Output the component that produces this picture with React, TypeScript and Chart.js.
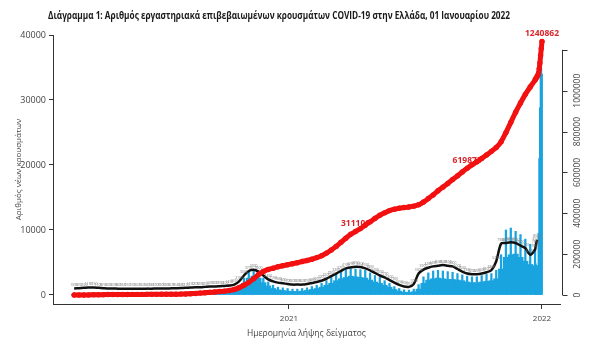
import React, { useEffect, useRef } from 'react';
import { Chart, registerables } from 'chart.js';

Chart.register(...registerables);

// ---- data (x = days relative to 1 Jan 2021) ----
const FIRST_WEEK_DAY = -310; // 26 Feb 2020
const WEEK_STEP = 7;

const TITLE = 'Διάγραμμα 1: Αριθμός εργαστηριακά επιβεβαιωμένων κρουσμάτων COVID-19 στην Ελλάδα, 01 Ιανουαρίου 2022';
const X_TITLE = 'Ημερομηνία λήψης δείγματος';
const Y_TITLE = 'Αριθμός νέων κρουσμάτων';

const xTickDays = [0, 365];
const xTickLabels = ['2021', '2022'];
const leftTicks = [0, 10000, 20000, 30000, 40000];
const rightTicks = [0, 200000, 400000, 600000, 800000, 1000000];
const rightAxisTop = 1200000;

// weekly daily-cases level (blue fill)
const blueBase = [
  1, 4, 25, 50, 70, 60, 40, 30, 20, 15,
  12, 8, 6, 8, 10, 12, 12, 15, 20, 25,
  30, 35, 50, 100, 170, 180, 170, 200, 230, 260,
  280, 290, 350, 450, 800, 1800, 2600, 2900, 2600, 1900,
  1400, 1000, 800, 700, 600, 550, 550, 600, 700, 850,
  1000, 1200, 1500, 1800, 2200, 2500, 2700, 2900, 2800, 2700,
  2600, 2300, 2000, 1800, 1500, 1200, 850, 600, 430, 400,
  500, 900, 1800, 2300, 2500, 2600, 2500, 2400, 2400, 2300,
  2200, 2000, 1900, 1900, 2000, 2100, 2200, 2500, 4000, 5800,
  6200, 6300, 5800, 5200, 4700, 4500,
];
// weekly peak days (blue spikes)
const bluePeak = [
  2, 8, 40, 80, 100, 90, 60, 45, 30, 25,
  20, 15, 10, 12, 15, 20, 20, 25, 30, 40,
  50, 60, 90, 180, 260, 280, 250, 290, 330, 370,
  400, 420, 500, 700, 1300, 2600, 3500, 3800, 3400, 2600,
  2000, 1500, 1200, 1100, 1000, 900, 900, 1000, 1100, 1300,
  1500, 1800, 2200, 2700, 3200, 3600, 3900, 4150, 4000, 3900,
  3800, 3400, 3000, 2700, 2200, 1800, 1300, 1000, 800, 750,
  900, 1600, 2800, 3400, 3700, 3800, 3700, 3600, 3500, 3300,
  3100, 2900, 2800, 2800, 3000, 3200, 3300, 3800, 6200, 10000,
  10300, 9800, 9300, 8600, 7800, 7000,
];
// black line (weekly)
const blackWeekly = [
  1000, 1050, 1100, 1150, 1150, 1100, 1050, 1000, 1000, 980,
  960, 950, 950, 960, 960, 980, 980, 1000, 1000, 1000,
  1020, 1040, 1060, 1100, 1150, 1200, 1200, 1250, 1300, 1300,
  1350, 1400, 1450, 1600, 2100, 3000, 3700, 3900, 3600, 3000,
  2400, 2100, 1900, 1800, 1700, 1600, 1600, 1600, 1700, 1850,
  2000, 2200, 2500, 2900, 3300, 3700, 4100, 4250, 4350, 4300,
  4100, 3800, 3400, 3000, 2700, 2300, 1900, 1550, 1300, 1250,
  1700, 3300, 3900, 4200, 4400, 4500, 4600, 4500, 4400, 4000,
  3600, 3300, 3200, 3200, 3300, 3500, 3800, 5200, 7900, 8000,
  8100, 8000, 7600, 7200, 6200, 7000,
];
// cumulative cases (weekly, right axis)
const cumulativeWeekly = [
  0, 10, 100, 400, 900, 1400, 1800, 2100, 2400, 2600,
  2700, 2800, 2850, 2900, 3000, 3100, 3200, 3300, 3400, 3600,
  3800, 4000, 4400, 5000, 6200, 7700, 9300, 11000, 13000, 15000,
  17000, 19000, 22000, 27000, 36000, 48000, 62000, 80000, 100000, 115000,
  125000, 131000, 138000, 143000, 148000, 153000, 158000, 164000, 169000, 175000,
  183000, 192000, 205000, 220000, 238000, 258000, 278000, 297000, 311109, 325000,
  342000, 358000, 375000, 390000, 402000, 413000, 420000, 425000, 428000, 431000,
  435000, 442000, 455000, 472000, 490000, 510000, 528000, 546000, 565000, 583000,
  602000, 619873, 637000, 652000, 668000, 685000, 703000, 722000, 750000, 795000,
  845000, 895000, 940000, 982000, 1018000, 1052000,
];

// last days, daily
const tailDays = [356, 357, 358, 359, 360, 361, 362, 363, 364, 365];
const tailCases = [4800, 4500, 3200, 3600, 9500, 21000, 28800, 35000, 34800, 34000];
const tailCumulative = [1058000, 1064000, 1070000, 1076000, 1086000, 1107000, 1136000, 1172000, 1207000, 1240862];
const tailBlackDays = [356, 357, 358];
const tailBlack = [7600, 8100, 8500];

// labelled cumulative points: index into the combined cumulative series
const cumLabelIndex = [58, 81, 105];
const cumLabelText = ['311109', '619873', '1240862'];

const BLUE = '#1aa4df';
const RED = '#f21010';
const LABEL_RED = '#d8242a';
const AXIS = '#333333';
const TEXT = '#444444';
const FONT = '"Open Sans", "DejaVu Sans", sans-serif';

export default function App() {
  const ref = useRef<HTMLCanvasElement | null>(null);

  useEffect(() => {
    document.body.style.margin = '0';
    const weekDays = blackWeekly.map((_, i) => FIRST_WEEK_DAY + i * WEEK_STEP);
    const pts = (xs: number[], ys: number[]) => xs.map((x, i) => ({ x, y: ys[i] }));

    const cumData = [...pts(weekDays, cumulativeWeekly), ...pts(tailDays, tailCumulative)];
    const blackData = [...pts(weekDays, blackWeekly), ...pts(tailBlackDays, tailBlack)];

    const overlay = {
      id: 'overlay',
      afterDatasetDraw(chart: any, args: any) {
        if (args.index !== 1) return;
        const ctx = chart.ctx;
        // small value labels along the black line
        const meta = chart.getDatasetMeta(1);
        ctx.save();
        ctx.font = `3.4px ${FONT}`;
        ctx.fillStyle = '#7a7a7a';
        ctx.textAlign = 'center';
        ctx.textBaseline = 'middle';
        meta.data.forEach((el: any, i: number) => {
          ctx.fillText(String(blackData[i].y), el.x, el.y - 3.3);
        });
        ctx.restore();
        // cumulative labels (beneath red line)
        const rmeta = chart.getDatasetMeta(0);
        ctx.save();
        ctx.font = `bold 8.5px ${FONT}`;
        ctx.fillStyle = LABEL_RED;
        ctx.textAlign = 'center';
        ctx.textBaseline = 'middle';
        cumLabelIndex.forEach((idx, k) => {
          const el = rmeta.data[idx];
          if (el) ctx.fillText(cumLabelText[k], el.x, el.y - 8);
        });
        ctx.restore();
      },
      afterDraw(chart: any) {
        const ctx = chart.ctx;
        // title
        ctx.save();
        ctx.font = `bold 11px ${FONT}`;
        ctx.fillStyle = '#1a1a1a';
        ctx.textAlign = 'center';
        ctx.textBaseline = 'middle';
        ctx.fillText(TITLE, 279, 16, 462);
        ctx.restore();
        // right axis
        const s = chart.scales.y2;
        const x0 = chart.chartArea.right + 2.5;
        ctx.save();
        ctx.strokeStyle = AXIS;
        ctx.lineWidth = 1;
        ctx.beginPath();
        ctx.moveTo(x0, s.getPixelForValue(0));
        ctx.lineTo(x0, s.getPixelForValue(rightAxisTop));
        [...rightTicks, rightAxisTop].forEach((v) => {
          const y = Math.round(s.getPixelForValue(v)) + 0.5;
          ctx.moveTo(x0, y);
          ctx.lineTo(x0 + 5, y);
        });
        ctx.stroke();
        ctx.font = `8.5px ${FONT}`;
        ctx.fillStyle = TEXT;
        ctx.textAlign = 'center';
        ctx.textBaseline = 'middle';
        rightTicks.forEach((v) => {
          const y = s.getPixelForValue(v);
          ctx.save();
          ctx.translate(x0 + 15, y);
          ctx.rotate(-Math.PI / 2);
          ctx.fillText(String(v), 0, 0);
          ctx.restore();
        });
        ctx.restore();
      },
    };

    const chart = new Chart(ref.current as HTMLCanvasElement, {
      type: 'bar',
      data: {
        datasets: [
          {
            type: 'line',
            label: 'Σωρευτικά κρούσματα',
            data: cumData,
            yAxisID: 'y2',
            borderColor: RED,
            backgroundColor: RED,
            borderWidth: 5,
            borderCapStyle: 'round',
            borderJoinStyle: 'round',
            pointRadius: 2.7,
            pointBorderWidth: 0,
            pointBackgroundColor: RED,
            tension: 0.2,
            order: 0,
          } as any,
          {
            type: 'line',
            label: 'Κινητός μέσος',
            data: blackData,
            yAxisID: 'y',
            borderColor: '#111111',
            borderWidth: 2.5,
            pointRadius: 0,
            tension: 0.3,
            order: 1,
          } as any,
          {
            type: 'bar',
            label: 'Νέα κρούσματα (κορυφές)',
            data: pts(weekDays, bluePeak),
            yAxisID: 'y',
            backgroundColor: BLUE,
            barThickness: 1.6,
            grouped: false,
            order: 2,
          } as any,
          {
            type: 'bar',
            label: 'Νέα κρούσματα',
            data: pts(weekDays, blueBase),
            yAxisID: 'y',
            backgroundColor: BLUE,
            barThickness: 5.4,
            grouped: false,
            order: 3,
          } as any,
          {
            type: 'bar',
            label: 'Νέα κρούσματα (ημερήσια)',
            data: pts(tailDays, tailCases),
            yAxisID: 'y',
            backgroundColor: BLUE,
            barThickness: 1.2,
            grouped: false,
            order: 4,
          } as any,
        ],
      },
      options: {
        responsive: false,
        animation: false,
        devicePixelRatio: 1,
        layout: { padding: { top: 35, left: 0, right: 0, bottom: 0 } },
        plugins: { legend: { display: false }, tooltip: { enabled: false }, title: { display: false } },
        scales: {
          x: {
            type: 'linear',
            min: -340.5,
            max: 391,
            offset: false,
            afterBuildTicks: (s: any) => {
              s.ticks = xTickDays.map((v) => ({ value: v }));
            },
            afterFit: (s: any) => {
              s.height = 56;
            },
            ticks: {
              autoSkip: false,
              maxRotation: 0,
              padding: 5,
              color: TEXT,
              font: { family: FONT, size: 8 },
              callback: (v: any) => {
                const k = xTickDays.indexOf(Number(v));
                return k >= 0 ? xTickLabels[k] : '';
              },
            },
            grid: { offset: false, drawOnChartArea: false, drawTicks: true, tickLength: 5, color: AXIS, tickColor: AXIS },
            border: { display: true, color: AXIS, width: 1 },
            title: {
              display: true,
              text: X_TITLE,
              color: TEXT,
              font: { family: FONT, size: 8.5 },
              padding: { top: 0, bottom: 21 },
            },
          },
          y: {
            type: 'linear',
            position: 'left',
            min: -1385,
            max: 40000,
            afterBuildTicks: (s: any) => {
              s.ticks = leftTicks.map((v) => ({ value: v }));
            },
            afterFit: (s: any) => {
              s.width = 53;
            },
            ticks: {
              padding: 3,
              color: TEXT,
              font: { family: FONT, size: 9 },
              callback: (v: any) => String(v),
            },
            grid: { drawOnChartArea: false, drawTicks: true, tickLength: 4, color: AXIS, tickColor: AXIS },
            border: { display: true, color: AXIS, width: 1 },
            title: {
              display: true,
              text: Y_TITLE,
              color: TEXT,
              font: { family: FONT, size: 8 },
              padding: { top: 14, bottom: 0 },
            },
          },
          y2: {
            type: 'linear',
            position: 'right',
            min: -44050,
            max: 1272600,
            afterFit: (s: any) => {
              s.width = 41;
            },
            ticks: { display: false },
            grid: { display: false },
            border: { display: false },
          },
        },
      },
      plugins: [overlay],
    } as any);

    return () => chart.destroy();
  }, []);

  return <canvas ref={ref} width={601} height={360} style={{ display: 'block' }} />;
}
